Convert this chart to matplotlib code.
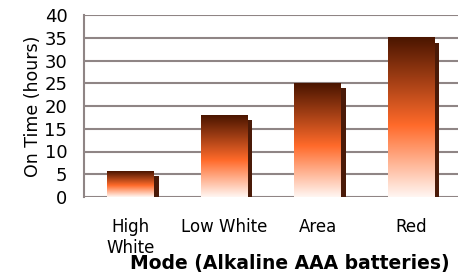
import numpy as np
import matplotlib.pyplot as plt
from matplotlib.colors import LinearSegmentedColormap

modes = ['High\nWhite', 'Low White', 'Area', 'Red']
hours = [5.7, 18, 25, 35]
yticks = [0, 5, 10, 15, 20, 25, 30, 35, 40]

# gradient: dark brown top -> orange -> near white bottom
cmap = LinearSegmentedColormap.from_list(
    'bar', [(0.0, '#fff6f2'), (0.45, '#ff6a2a'), (1.0, '#4a1500')])
grad = np.linspace(0, 1, 256).reshape(-1, 1)

fig = plt.figure(figsize=(4.58, 2.77), dpi=100)
ax = fig.add_axes([84 / 458, 1 - 197 / 277, 374 / 458, 182 / 277])

w = 0.5
x = np.arange(len(modes))
for xi, h in zip(x, hours):
    # shadow
    ax.bar(xi + 0.05, h - 0.9, bottom=-0.25, width=w, color='#4a1a08', zorder=2)
    ax.imshow(grad, cmap=cmap, origin='lower', aspect='auto',
              extent=(xi - w / 2, xi + w / 2, 0, h), zorder=3)

ax.set_xlim(-0.5, len(modes) - 0.5)
ax.set_ylim(0, 40)
ax.set_yticks(yticks)
ax.set_xticks(x)
ax.set_xticklabels(modes, fontsize=12, linespacing=1.2)
ax.tick_params(axis='y', labelsize=13, length=0, pad=12)
ax.tick_params(axis='x', length=0, pad=15)
ax.yaxis.grid(True, color='#8f8585', linewidth=1.5)
ax.set_axisbelow(True)
for s in ['top', 'right', 'bottom']:
    ax.spines[s].set_visible(False)
ax.spines['left'].set_color('#8f8585')
ax.spines['left'].set_linewidth(1.5)

ax.set_ylabel('On Time (hours)', fontsize=12.5, labelpad=2)
ax.set_xlabel('Mode (Alkaline AAA batteries)', fontsize=13.5,
              fontweight='bold')
ax.xaxis.set_label_coords(0.55, -0.365)
ax.xaxis.label.set_verticalalignment('center')

fig.savefig('out.png', dpi=100)
